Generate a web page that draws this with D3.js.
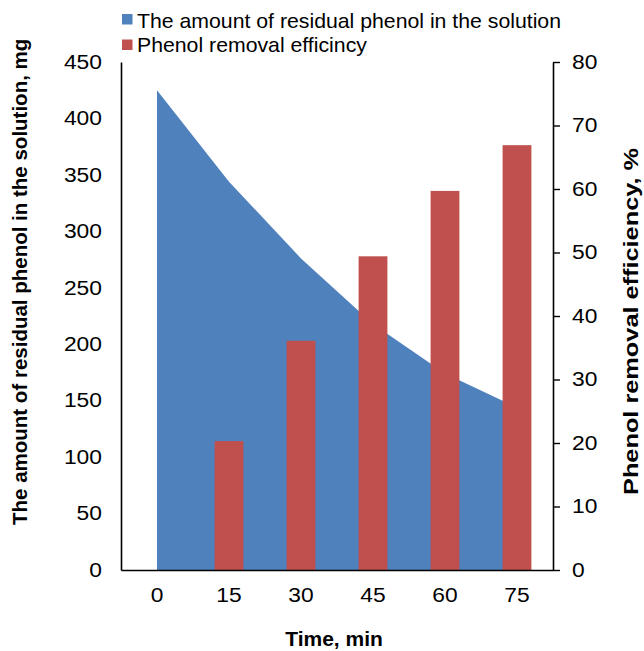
<!DOCTYPE html>
<html>
<head>
<meta charset="utf-8">
<script src="https://cdn.jsdelivr.net/npm/d3@7"></script>
<style>
  html, body { margin: 0; padding: 0; background: #fff; }
  svg { display: block; }
  text { font-family: "Liberation Sans", Arial, sans-serif; fill: #000; }
</style>
</head>
<body>
<script>
// Phenol removal over time: residual phenol (area, left axis) and removal efficiency (bars, right axis)
const times = ["0", "15", "30", "45", "60", "75"];
const residualPhenol = [425, 344, 276, 218, 174, 144];       // mg
const removalEfficiency = [0, 20.3, 36.1, 49.4, 59.7, 66.9]; // %
const leftTicks = [0, 50, 100, 150, 200, 250, 300, 350, 400, 450];
const rightTicks = [0, 10, 20, 30, 40, 50, 60, 70, 80];
const seriesNames = ["The amount of residual phenol in the solution", "Phenol removal efficincy"];

const W = 644, H = 651;
const plot = { left: 121, right: 553, top: 62, bottom: 570 };
const blue = "#4F81BD", red = "#C0504D";
const tickFont = 19.5, tickStretch = 1.17;

const svg = d3.select("body").append("svg").attr("width", W).attr("height", H);

const x = d3.scaleBand().domain(times).range([plot.left, plot.right]).paddingInner(0).paddingOuter(0);
const yL = d3.scaleLinear().domain([0, 450]).range([plot.bottom, plot.top]);
const yR = d3.scaleLinear().domain([0, 80]).range([plot.bottom, plot.top]);
const bw = x.bandwidth();

const rows = times.map((t, i) => ({ t, residual: residualPhenol[i], eff: removalEfficiency[i] }));

// Residual phenol area
const area = d3.area()
  .x(d => x(d.t) + bw / 2)
  .y0(yL(0))
  .y1(d => yL(d.residual));
svg.append("path").datum(rows).attr("d", area).attr("fill", blue);

// Efficiency bars
svg.append("g").selectAll("rect")
  .data(rows.filter(d => d.eff > 0))
  .join("rect")
  .attr("x", d => x(d.t) + bw * 0.3)
  .attr("width", bw * 0.4)
  .attr("y", d => yR(d.eff))
  .attr("height", d => yR(0) - yR(d.eff))
  .attr("fill", red);

// Axes
function styleAxis(g) {
  g.selectAll(".domain").attr("stroke", "#000").attr("stroke-width", 1.6);
  g.selectAll(".tick line").attr("stroke", "#000").attr("stroke-width", 1.4);
  g.selectAll(".tick text").attr("font-size", tickFont).attr("font-family", "Liberation Sans, Arial, sans-serif").attr("fill", "#000");
}

const gL = svg.append("g").attr("transform", `translate(${plot.left},0)`)
  .call(d3.axisLeft(yL).tickValues(leftTicks).tickSize(0).tickPadding(0));
styleAxis(gL);
gL.selectAll(".tick text")
  .attr("x", -19 / tickStretch)
  .attr("transform", `scale(${tickStretch},1)`);

const gR = svg.append("g").attr("transform", `translate(${plot.right},0)`)
  .call(d3.axisRight(yR).tickValues(rightTicks).tickSizeInner(7).tickSizeOuter(0).tickPadding(0));
styleAxis(gR);
gR.selectAll(".tick text")
  .attr("x", 19 / tickStretch)
  .attr("transform", `scale(${tickStretch},1)`);

const gB = svg.append("g").attr("transform", `translate(0,${plot.bottom})`)
  .call(d3.axisBottom(x).tickSize(0).tickSizeOuter(0).tickPadding(0));
styleAxis(gB);
gB.selectAll(".tick text")
  .attr("y", 31.7).attr("dy", 0)
  .attr("transform", `scale(${tickStretch},1)`);

// Axis titles
svg.append("text")
  .attr("transform", `translate(334,646) scale(1.05,1)`)
  .attr("text-anchor", "middle")
  .attr("font-size", 20).attr("font-weight", "bold")
  .text("Time, min");

svg.append("text")
  .attr("transform", "translate(27,525) rotate(-90)")
  .attr("text-anchor", "start")
  .attr("font-size", 20.5).attr("font-weight", "bold")
  .text("The amount of residual phenol in the solution, mg");

svg.append("text")
  .attr("transform", "translate(638,495) rotate(-90)")
  .attr("text-anchor", "start")
  .attr("font-size", 20).attr("font-weight", "bold")
  .attr("textLength", 347).attr("lengthAdjust", "spacingAndGlyphs")
  .text("Phenol removal efficiency, %");

// Legend
const legend = svg.append("g");
const legendColors = [blue, red];
const legendRows = [{ sq: 14, base: 27.5 }, { sq: 39.5, base: 52 }];
seriesNames.forEach((name, i) => {
  legend.append("rect")
    .attr("x", 122).attr("y", legendRows[i].sq)
    .attr("width", 10.5).attr("height", 10.5)
    .attr("fill", legendColors[i]);
  legend.append("text")
    .attr("transform", `translate(137,${legendRows[i].base}) scale(1.063,1)`)
    .attr("font-size", 20)
    .text(name);
});
</script>
</body>
</html>
